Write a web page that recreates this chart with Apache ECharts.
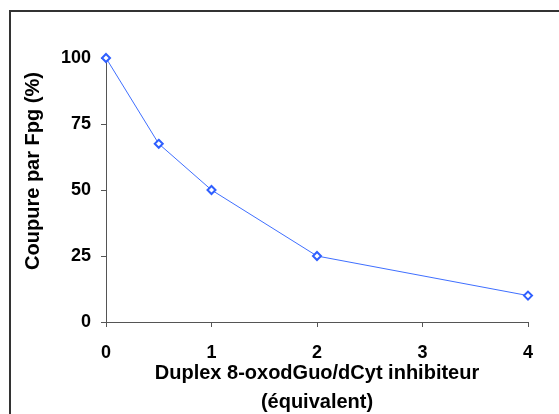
<!DOCTYPE html>
<html>
<head>
<meta charset="utf-8">
<script src="https://cdn.jsdelivr.net/npm/echarts@6/dist/echarts.min.js"></script>
<style>
  html, body { margin: 0; padding: 0; background: #fff; overflow: hidden; }
  #chart { width: 559px; height: 414px; }
</style>
</head>
<body>
<div id="chart"></div>
<script>
// données
const equivalents = [0, 0.5, 1, 2, 4];
const coupure = [100, 67.5, 50, 25, 10];
const xTicks = [0, 1, 2, 3, 4];
const yTicks = [0, 25, 50, 75, 100];

const xName = 'Duplex 8-oxodGuo/dCyt inhibiteur\n(équivalent)';
const yName = 'Coupure par Fpg (%)';

const font = '"Liberation Sans", Arial, sans-serif';
const axisColor = '#555';

const chart = echarts.init(document.getElementById('chart'));

chart.setOption({
  animation: false,
  backgroundColor: '#fff',
  grid: {
    left: 106,
    right: 31,
    top: 58,
    bottom: 92,
    containLabel: false,
    outerBoundsMode: 'none'
  },
  graphic: [
    {
      // cadre du graphique (coupé à droite et en bas)
      type: 'polyline',
      shape: { points: [[10, 430], [10, 11], [580, 11]] },
      style: { fill: null, stroke: '#333', lineWidth: 2 },
      silent: true
    },
    {
      type: 'text',
      x: 33,
      y: 171,
      rotation: Math.PI / 2,
      style: {
        text: yName,
        fontFamily: font,
        fontWeight: 'bold',
        fontSize: 20,
        fill: '#000',
        align: 'center',
        verticalAlign: 'middle'
      }
    }
  ],
  xAxis: {
    type: 'value',
    min: xTicks[0],
    max: xTicks[xTicks.length - 1],
    interval: 1,
    name: xName,
    nameLocation: 'middle',
    nameGap: 37,
    nameMoveOverlap: false,
    nameTextStyle: {
      fontFamily: font,
      fontWeight: 'bold',
      fontSize: 20,
      color: '#000',
      lineHeight: 29
    },
    axisLine: { show: true, lineStyle: { color: axisColor, width: 1 } },
    axisTick: { show: true, inside: false, length: 5, lineStyle: { color: axisColor } },
    axisLabel: {
      margin: 22,
      fontFamily: font,
      fontWeight: 'bold',
      fontSize: 18,
      color: '#000'
    },
    splitLine: { show: false }
  },
  yAxis: {
    type: 'value',
    min: yTicks[0],
    max: yTicks[yTicks.length - 1],
    interval: 25,
    axisLine: { show: true, lineStyle: { color: axisColor, width: 1 } },
    axisTick: { show: true, inside: false, length: 5, lineStyle: { color: axisColor } },
    axisLabel: {
      margin: 15,
      fontFamily: font,
      fontWeight: 'bold',
      fontSize: 18,
      color: '#000'
    },
    splitLine: { show: false }
  },
  series: [
    {
      name: 'Coupure',
      type: 'line',
      data: equivalents.map((x, i) => [x, coupure[i]]),
      symbol: 'diamond',
      symbolSize: 8,
      lineStyle: { color: '#3f6fff', width: 1 },
      itemStyle: { color: '#fff', borderColor: '#2f5fff', borderWidth: 2 },
      clip: false
    }
  ]
});
</script>
</body>
</html>
